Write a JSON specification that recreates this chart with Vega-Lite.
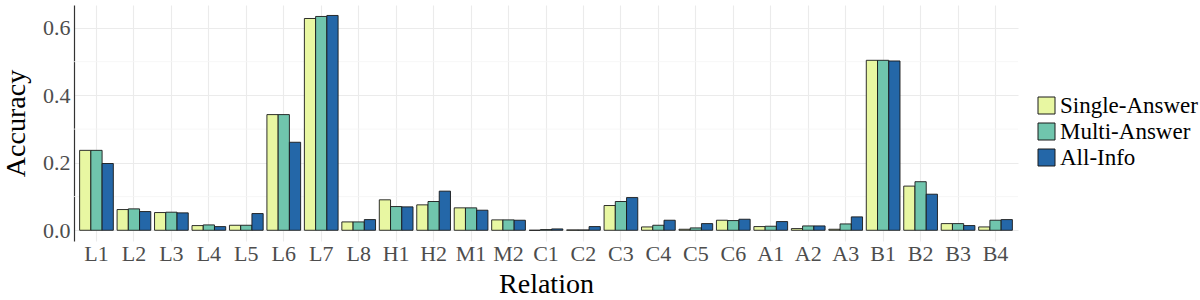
{
  "$schema": "https://vega.github.io/schema/vega-lite/v6.json",
  "width": 944,
  "height": 236,
  "autosize": {"type": "none"},
  "padding": {"left": 74, "top": 5, "right": 182, "bottom": 59},
  "background": "white",
  "config": {
    "view": {"stroke": null},
    "font": "Liberation Serif",
    "axis": {
      "labelFont": "Liberation Serif",
      "titleFont": "Liberation Serif",
      "labelFontSize": 22,
      "titleFontSize": 28,
      "titleFontWeight": "normal",
      "labelColor": "#4d4d4d",
      "titleColor": "#000000",
      "gridColor": "#ebebeb",
      "gridWidth": 1.1,
      "ticks": false
    },
    "legend": {
      "labelFont": "Liberation Serif",
      "labelFontSize": 22,
      "labelColor": "#000000"
    }
  },
  "layer": [
    {
      "data": {"values": [{"v": 0.1}, {"v": 0.3}, {"v": 0.5}]},
      "mark": {"type": "rule", "color": "#f5f5f5", "strokeWidth": 0.8},
      "encoding": {
        "y": {"field": "v", "type": "quantitative"}
      }
    },
    {
      "data": {"values": [
        {"relation": "L1", "type": "Single-Answer", "acc": 0.237},
        {"relation": "L1", "type": "Multi-Answer", "acc": 0.237},
        {"relation": "L1", "type": "All-Info", "acc": 0.198},
        {"relation": "L2", "type": "Single-Answer", "acc": 0.0615},
        {"relation": "L2", "type": "Multi-Answer", "acc": 0.0635},
        {"relation": "L2", "type": "All-Info", "acc": 0.0555},
        {"relation": "L3", "type": "Single-Answer", "acc": 0.0526},
        {"relation": "L3", "type": "Multi-Answer", "acc": 0.0536},
        {"relation": "L3", "type": "All-Info", "acc": 0.0516},
        {"relation": "L4", "type": "Single-Answer", "acc": 0.0139},
        {"relation": "L4", "type": "Multi-Answer", "acc": 0.0159},
        {"relation": "L4", "type": "All-Info", "acc": 0.0109},
        {"relation": "L5", "type": "Single-Answer", "acc": 0.0149},
        {"relation": "L5", "type": "Multi-Answer", "acc": 0.0149},
        {"relation": "L5", "type": "All-Info", "acc": 0.0496},
        {"relation": "L6", "type": "Single-Answer", "acc": 0.343},
        {"relation": "L6", "type": "Multi-Answer", "acc": 0.343},
        {"relation": "L6", "type": "All-Info", "acc": 0.261},
        {"relation": "L7", "type": "Single-Answer", "acc": 0.628},
        {"relation": "L7", "type": "Multi-Answer", "acc": 0.634},
        {"relation": "L7", "type": "All-Info", "acc": 0.637},
        {"relation": "L8", "type": "Single-Answer", "acc": 0.0248},
        {"relation": "L8", "type": "Multi-Answer", "acc": 0.0248},
        {"relation": "L8", "type": "All-Info", "acc": 0.0317},
        {"relation": "H1", "type": "Single-Answer", "acc": 0.0903},
        {"relation": "H1", "type": "Multi-Answer", "acc": 0.0704},
        {"relation": "H1", "type": "All-Info", "acc": 0.0694},
        {"relation": "H2", "type": "Single-Answer", "acc": 0.0754},
        {"relation": "H2", "type": "Multi-Answer", "acc": 0.0853},
        {"relation": "H2", "type": "All-Info", "acc": 0.116},
        {"relation": "M1", "type": "Single-Answer", "acc": 0.0665},
        {"relation": "M1", "type": "Multi-Answer", "acc": 0.0665},
        {"relation": "M1", "type": "All-Info", "acc": 0.0595},
        {"relation": "M2", "type": "Single-Answer", "acc": 0.0308},
        {"relation": "M2", "type": "Multi-Answer", "acc": 0.0308},
        {"relation": "M2", "type": "All-Info", "acc": 0.0298},
        {"relation": "C1", "type": "Single-Answer", "acc": 0.0},
        {"relation": "C1", "type": "Multi-Answer", "acc": 0.002},
        {"relation": "C1", "type": "All-Info", "acc": 0.004},
        {"relation": "C2", "type": "Single-Answer", "acc": 0.001},
        {"relation": "C2", "type": "Multi-Answer", "acc": 0.001},
        {"relation": "C2", "type": "All-Info", "acc": 0.011},
        {"relation": "C3", "type": "Single-Answer", "acc": 0.0734},
        {"relation": "C3", "type": "Multi-Answer", "acc": 0.0853},
        {"relation": "C3", "type": "All-Info", "acc": 0.097},
        {"relation": "C4", "type": "Single-Answer", "acc": 0.0099},
        {"relation": "C4", "type": "Multi-Answer", "acc": 0.0149},
        {"relation": "C4", "type": "All-Info", "acc": 0.0298},
        {"relation": "C5", "type": "Single-Answer", "acc": 0.003},
        {"relation": "C5", "type": "Multi-Answer", "acc": 0.007},
        {"relation": "C5", "type": "All-Info", "acc": 0.0198},
        {"relation": "C6", "type": "Single-Answer", "acc": 0.0298},
        {"relation": "C6", "type": "Multi-Answer", "acc": 0.0288},
        {"relation": "C6", "type": "All-Info", "acc": 0.0327},
        {"relation": "A1", "type": "Single-Answer", "acc": 0.011},
        {"relation": "A1", "type": "Multi-Answer", "acc": 0.012},
        {"relation": "A1", "type": "All-Info", "acc": 0.0258},
        {"relation": "A2", "type": "Single-Answer", "acc": 0.005},
        {"relation": "A2", "type": "Multi-Answer", "acc": 0.0129},
        {"relation": "A2", "type": "All-Info", "acc": 0.0129},
        {"relation": "A3", "type": "Single-Answer", "acc": 0.003},
        {"relation": "A3", "type": "Multi-Answer", "acc": 0.0188},
        {"relation": "A3", "type": "All-Info", "acc": 0.0397},
        {"relation": "B1", "type": "Single-Answer", "acc": 0.504},
        {"relation": "B1", "type": "Multi-Answer", "acc": 0.504},
        {"relation": "B1", "type": "All-Info", "acc": 0.502},
        {"relation": "B2", "type": "Single-Answer", "acc": 0.131},
        {"relation": "B2", "type": "Multi-Answer", "acc": 0.144},
        {"relation": "B2", "type": "All-Info", "acc": 0.107},
        {"relation": "B3", "type": "Single-Answer", "acc": 0.0198},
        {"relation": "B3", "type": "Multi-Answer", "acc": 0.0198},
        {"relation": "B3", "type": "All-Info", "acc": 0.014},
        {"relation": "B4", "type": "Single-Answer", "acc": 0.0099},
        {"relation": "B4", "type": "Multi-Answer", "acc": 0.0298},
        {"relation": "B4", "type": "All-Info", "acc": 0.0317}
      ]},
      "mark": {"type": "bar", "stroke": "#1a1a1a", "strokeWidth": 1, "strokeOpacity": 0.9},
      "encoding": {
        "x": {
          "field": "relation",
          "type": "nominal",
          "sort": null,
          "scale": {"paddingInner": 0.1, "paddingOuter": 0.15},
          "axis": {
            "title": "Relation",
            "labelAngle": 0,
            "domain": false,
            "grid": true,
            "bandPosition": 0.5,
            "labelPadding": 2,
            "titlePadding": 6
          }
        },
        "xOffset": {
          "field": "type",
          "type": "nominal",
          "scale": {"domain": ["Single-Answer", "Multi-Answer", "All-Info"], "paddingInner": 0, "paddingOuter": 0}
        },
        "y": {
          "field": "acc",
          "type": "quantitative",
          "scale": {"domain": [-0.0318, 0.668], "nice": false, "zero": false},
          "axis": {
            "title": "Accuracy",
            "values": [0, 0.2, 0.4, 0.6],
            "format": ".1f",
            "grid": true,
            "domain": true,
            "domainColor": "#333333",
            "domainWidth": 1.2,
            "labelPadding": 4,
            "titlePadding": 12
          }
        },
        "color": {
          "field": "type",
          "type": "nominal",
          "scale": {"domain": ["Single-Answer", "Multi-Answer", "All-Info"], "range": ["#e8f7a2", "#70c5ad", "#2467a8"]},
          "legend": {
            "title": null,
            "orient": "none",
            "legendX": 961,
            "legendY": 89,
            "direction": "vertical",
            "columns": 1,
            "symbolType": "square",
            "symbolSize": 289,
            "symbolStrokeColor": "#1a1a1a",
            "symbolStrokeWidth": 1,
            "symbolOpacity": 1,
            "labelOffset": 2,
            "labelFont": "Liberation Serif",
            "labelFontSize": 23,
            "labelColor": "#000000"
          }
        }
      }
    }
  ]
}
